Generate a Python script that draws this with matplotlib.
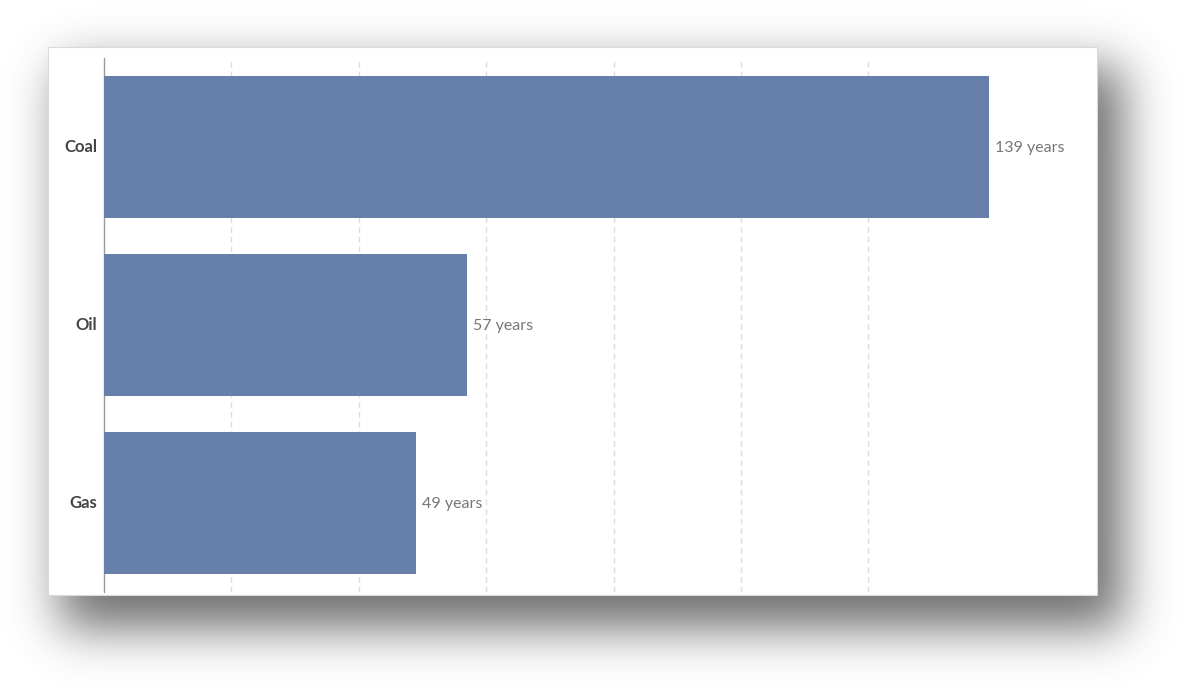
import matplotlib.pyplot as plt
import numpy as np
from math import erf
from matplotlib.patches import Rectangle

plt.rcParams["font.family"] = ["Lato", "DejaVu Sans"]

# --- data ---
fuels = ["Coal", "Oil", "Gas"]
years_left = [139, 57, 49]
value_labels = ["139 years", "57 years", "49 years"]

W, H = 1194, 693
fig = plt.figure(figsize=(W / 100, H / 100), dpi=100)
fig.patch.set_facecolor("white")

# background layer: blurred drop shadow + white card
bg = fig.add_axes([0, 0, 1, 1])
bg.set_xlim(0, W)
bg.set_ylim(H, 0)
bg.axis("off")

card = (48, 47, 1097, 595)          # x0, y0, x1, y1 in pixels
sh = (60, 66, 1122, 628)
verf = np.vectorize(erf)


def soft_box(a0, a1, coord, s):
    return 0.5 * (verf((coord - a0) / (s * np.sqrt(2))) - verf((coord - a1) / (s * np.sqrt(2))))


sx = soft_box(sh[0], sh[2], np.arange(W, dtype=float), 24)
sy = soft_box(sh[1], sh[3], np.arange(H, dtype=float), 24)
alpha = 0.75 * np.outer(sy, sx)
shadow = np.ones((H, W, 4))
shadow[..., :3] = 0.25
shadow[..., 3] = alpha
bg.imshow(shadow, extent=[0, W, H, 0], interpolation="bilinear", zorder=1)
bg.add_patch(Rectangle((card[0], card[1]), card[2] - card[0], card[3] - card[1],
                       facecolor="white", edgecolor="#dadada", lw=0.8, zorder=2))

# chart axes
x0, x1 = 104, 1097
y0, y1 = 58, 592
ax = fig.add_axes([x0 / W, 1 - y1 / H, (x1 - x0) / W, (y1 - y0) / H])
ax.patch.set_alpha(0)
px_per_unit = 6.37
ax.set_xlim(0, (x1 - x0) / px_per_unit)
ax.set_ylim(2.5, -0.5)

ypos = np.arange(len(fuels))
ax.barh(ypos, years_left, height=0.8, color="#667fab", zorder=3)
for y, v, lab in zip(ypos, years_left, value_labels):
    ax.text(v + 0.95, y + 0.005, lab, va="center", ha="left", fontsize=11.5,
            color="#777777", zorder=4)

ax.set_xticks(np.arange(20, 140, 20))
ax.xaxis.grid(True, color="#dddddd", ls=(0, (4, 3)), lw=1)
ax.tick_params(axis="x", length=0, labelbottom=False)
ax.set_yticks(ypos - 0.01)
ax.set_yticklabels(fuels, fontsize=12, fontweight="bold", color="#444444")
ax.tick_params(axis="y", length=0, pad=5)
for s in ["top", "right", "bottom"]:
    ax.spines[s].set_visible(False)
ax.spines["left"].set_color("#999999")
ax.spines["left"].set_linewidth(1)

fig.savefig("out.png", dpi=100)
